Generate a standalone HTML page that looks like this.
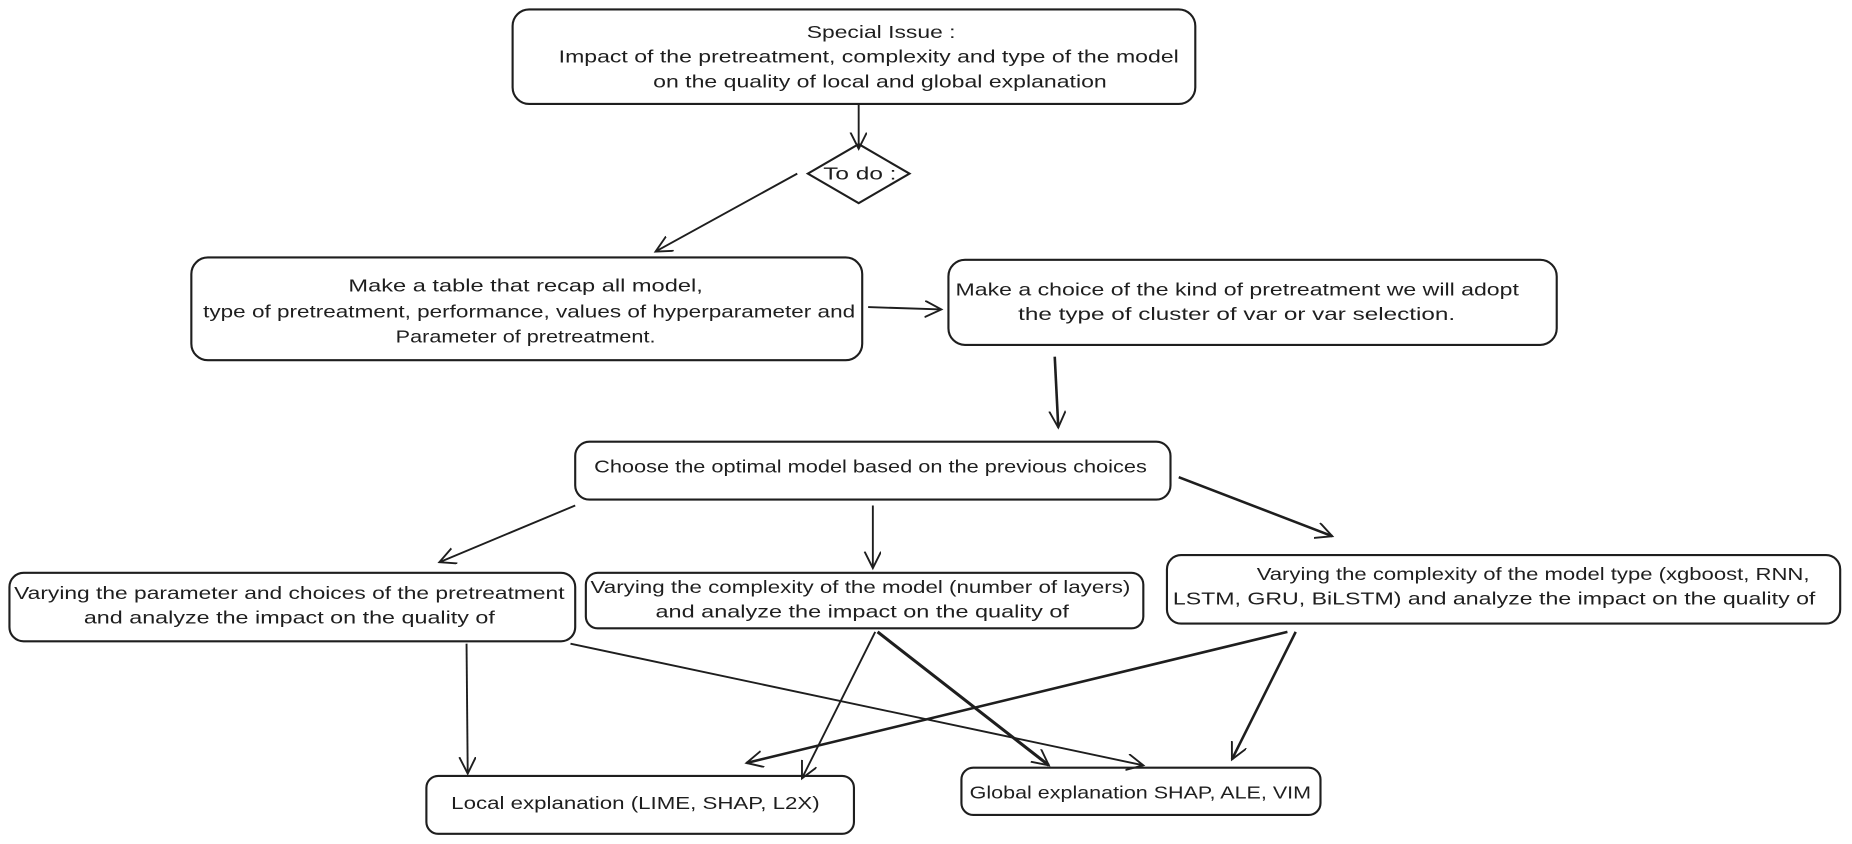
<!DOCTYPE html>
<html><head><meta charset="utf-8"><style>
html,body{margin:0;padding:0;background:#fff;width:1852px;height:844px;overflow:hidden}
svg{display:block}
text{font-family:"Liberation Sans",sans-serif;font-size:15px;fill:#1e1e1e}
</style></head><body>
<svg width="1852" height="844" viewBox="0 0 1568 714.6" preserveAspectRatio="none">
<defs>
<marker id="a" markerWidth="20" markerHeight="20" refX="14" refY="7" orient="auto" markerUnits="userSpaceOnUse">
<path d="M0,0 L14,7 L0,14" fill="none" stroke="#1e1e1e" stroke-width="1.6"/>
</marker>
</defs>
<g fill="none" stroke="#1e1e1e" stroke-width="1.8">
<rect x="434" y="8" width="578" height="80" rx="14"/>
<path d="M727,122 L770,147 L727,172 L684,147 Z"/>
<rect x="162" y="218" width="568" height="87" rx="14"/>
<rect x="803" y="220" width="515" height="72" rx="14"/>
<rect x="487" y="374" width="504" height="49" rx="12"/>
<rect x="8" y="485" width="479" height="58" rx="12"/>
<rect x="496" y="485" width="472" height="47" rx="10"/>
<rect x="988" y="470" width="570" height="58" rx="12"/>
<rect x="361" y="657" width="362" height="49" rx="10"/>
<rect x="814" y="650" width="304" height="40" rx="10"/>
</g>
<g fill="none" stroke="#1e1e1e" stroke-width="1.6" marker-end="url(#a)">
<line x1="727" y1="88" x2="727" y2="126"/>
<line x1="675" y1="147" x2="555" y2="213"/>
<line x1="735" y1="260" x2="797" y2="262"/>
<line x1="893" y1="302" x2="896" y2="362" stroke-width="2.2"/>
<line x1="487" y1="428" x2="372" y2="476"/>
<line x1="739" y1="428" x2="739" y2="481"/>
<line x1="998" y1="404" x2="1128" y2="454" stroke-width="2.2"/>
<line x1="395" y1="545" x2="396" y2="655"/>
<line x1="483" y1="545" x2="968" y2="648"/>
<line x1="741" y1="535" x2="679" y2="659"/>
<line x1="743" y1="535" x2="888" y2="648" stroke-width="2.6"/>
<line x1="1090" y1="535" x2="632" y2="646" stroke-width="2.2"/>
<line x1="1097" y1="535" x2="1043" y2="643" stroke-width="2.2"/>
</g>
<g lengthAdjust="spacingAndGlyphs">
<text x="683" y="32" textLength="126" lengthAdjust="spacingAndGlyphs">Special Issue :</text>
<text x="473" y="53" textLength="525" lengthAdjust="spacingAndGlyphs">Impact of the pretreatment, complexity and type of the model</text>
<text x="553" y="74" textLength="384" lengthAdjust="spacingAndGlyphs">on the quality of local and global explanation</text>
<text x="697" y="152" textLength="62" lengthAdjust="spacingAndGlyphs">To do :</text>
<text x="295" y="247" textLength="300" lengthAdjust="spacingAndGlyphs">Make a table that recap all model,</text>
<text x="172" y="269" textLength="552" lengthAdjust="spacingAndGlyphs">type of pretreatment, performance, values of hyperparameter and</text>
<text x="335" y="290" textLength="220" lengthAdjust="spacingAndGlyphs">Parameter of pretreatment.</text>
<text x="809" y="250" textLength="477" lengthAdjust="spacingAndGlyphs">Make a choice of the kind of pretreatment we will adopt</text>
<text x="862" y="271" textLength="370" lengthAdjust="spacingAndGlyphs">the type of cluster of var or var selection.</text>
<text x="503" y="400" textLength="468" lengthAdjust="spacingAndGlyphs">Choose the optimal model based on the previous choices</text>
<text x="12" y="507" textLength="466" lengthAdjust="spacingAndGlyphs">Varying the parameter and choices of the pretreatment</text>
<text x="71" y="528" textLength="348" lengthAdjust="spacingAndGlyphs">and analyze the impact on the quality of</text>
<text x="500" y="502" textLength="457" lengthAdjust="spacingAndGlyphs">Varying the complexity of the model (number of layers)</text>
<text x="555" y="523" textLength="350" lengthAdjust="spacingAndGlyphs">and analyze the impact on the quality of</text>
<text x="1064" y="491" textLength="468" lengthAdjust="spacingAndGlyphs">Varying the complexity of the model type (xgboost, RNN,</text>
<text x="993" y="512" textLength="544" lengthAdjust="spacingAndGlyphs">LSTM, GRU, BiLSTM)  and analyze the impact on the quality of</text>
<text x="382" y="685" textLength="312" lengthAdjust="spacingAndGlyphs">Local explanation (LIME, SHAP, L2X)</text>
<text x="821" y="676" textLength="289" lengthAdjust="spacingAndGlyphs">Global explanation SHAP, ALE, VIM</text>
</g>
</svg>
</body></html>
